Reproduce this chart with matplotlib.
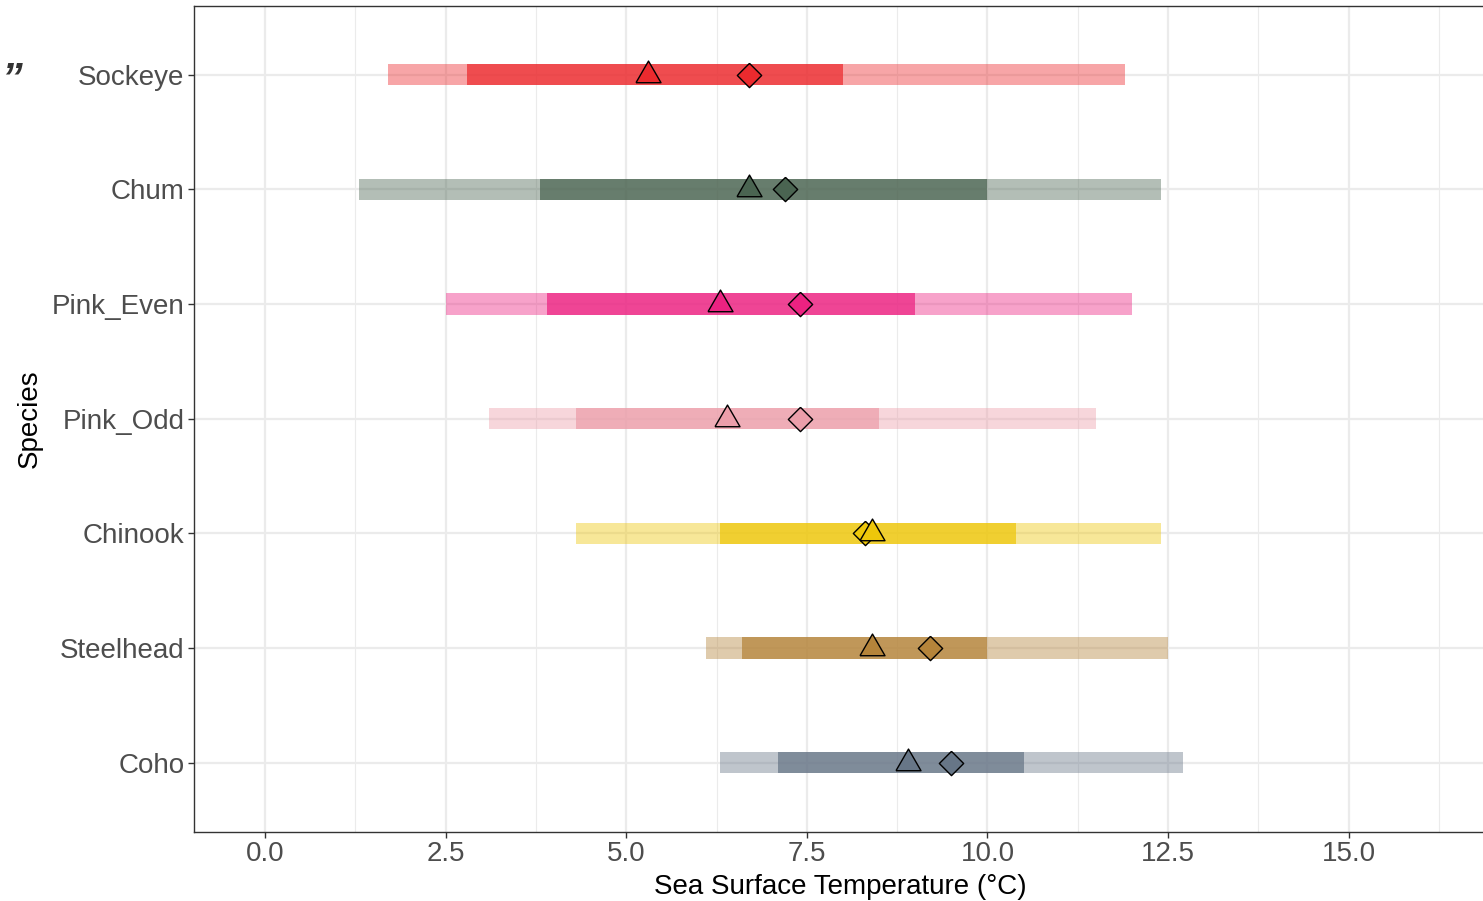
import matplotlib
matplotlib.use("Agg")
import matplotlib.pyplot as plt
from matplotlib.ticker import MultipleLocator
import numpy as np

plt.rcParams['font.family'] = ['Liberation Sans', 'DejaVu Sans']

species = ["Sockeye", "Chum", "Pink_Even", "Pink_Odd", "Chinook", "Steelhead", "Coho"]
lo95 = [1.7, 1.3, 2.5, 3.1, 4.3, 6.1, 6.3]
lo50 = [2.8, 3.8, 3.9, 4.3, 6.3, 6.6, 7.1]
hi50 = [8.0, 10.0, 9.0, 8.5, 10.4, 10.0, 10.5]
hi95 = [11.9, 12.4, 12.0, 11.5, 12.4, 12.5, 12.7]
mode_temp = [5.3, 6.7, 6.3, 6.4, 8.4, 8.4, 8.9]     # triangles
mean_temp = [6.7, 7.2, 7.4, 7.4, 8.3, 9.2, 9.5]     # diamonds
colors = ["#EC2A2E", "#4A6451", "#EC2281", "#EC9EAA", "#EEC70A", "#B5843A", "#677687"]
xticks = [0.0, 2.5, 5.0, 7.5, 10.0, 12.5, 15.0]

W, H = 1483, 901
fig = plt.figure(figsize=(W / 100, H / 100), dpi=100)
ax = fig.add_axes([194 / W, (H - 831.5) / H, 1 - 194 / W + 0.002, (831.5 - 5.7) / H])

n = len(species)
ypos = np.arange(n, 0, -1)

bar_h = 0.185
for i in range(n):
    ax.barh(ypos[i], hi95[i] - lo95[i], left=lo95[i], height=bar_h,
            color=colors[i], alpha=0.42, linewidth=0, zorder=3)
    ax.barh(ypos[i], hi50[i] - lo50[i], left=lo50[i], height=bar_h,
            color=colors[i], alpha=0.72, linewidth=0, zorder=4)

tri = [(-1, -0.57735), (1, -0.57735), (0, 1.1547), (-1, -0.57735)]
dia = [(0, 1), (1, 0), (0, -1), (-1, 0), (0, 1)]
for i in range(n):
    ax.plot(mean_temp[i], ypos[i], marker=dia, markersize=17.5, linestyle='none',
            markerfacecolor=colors[i], markeredgecolor='black', markeredgewidth=1.0, zorder=5)
    ax.plot(mode_temp[i], ypos[i], marker=tri, markersize=20.8, linestyle='none',
            markerfacecolor=colors[i], markeredgecolor='black', markeredgewidth=1.0, zorder=6)

ax.set_xlim(-0.983, 16.9)
ax.set_ylim(0.4, n + 0.6)
ax.set_yticks(ypos)
ax.set_yticklabels(species)
ax.set_xticks(xticks)
ax.set_xticklabels([f"{t:.1f}" for t in xticks])
ax.xaxis.set_minor_locator(MultipleLocator(1.25))

ax.grid(True, which='major', color='#EBEBEB', linewidth=1.6, zorder=0)
ax.grid(True, which='minor', axis='x', color='#EBEBEB', linewidth=0.8, zorder=0)
ax.set_axisbelow(True)
ax.tick_params(axis='both', which='major', length=4, width=1.0, color='#333333',
               labelsize=20, labelcolor='#4D4D4D', pad=3)
ax.tick_params(axis='x', which='minor', length=0)
for s in ['left', 'bottom', 'top']:
    ax.spines[s].set_color('#333333')
    ax.spines[s].set_linewidth(1.0)
ax.spines['right'].set_visible(False)

ax.set_xlabel("Sea Surface Temperature (°C)", fontsize=20, color='black', labelpad=5)
ax.set_ylabel("Species", fontsize=20, color='black', labelpad=6)

fig.text(1 / W, 1 - 80 / H, "\u201d", fontsize=30, fontweight='bold', style='italic',
         ha='left', va='center', color='#333333')

fig.savefig("out.png", dpi=100)
